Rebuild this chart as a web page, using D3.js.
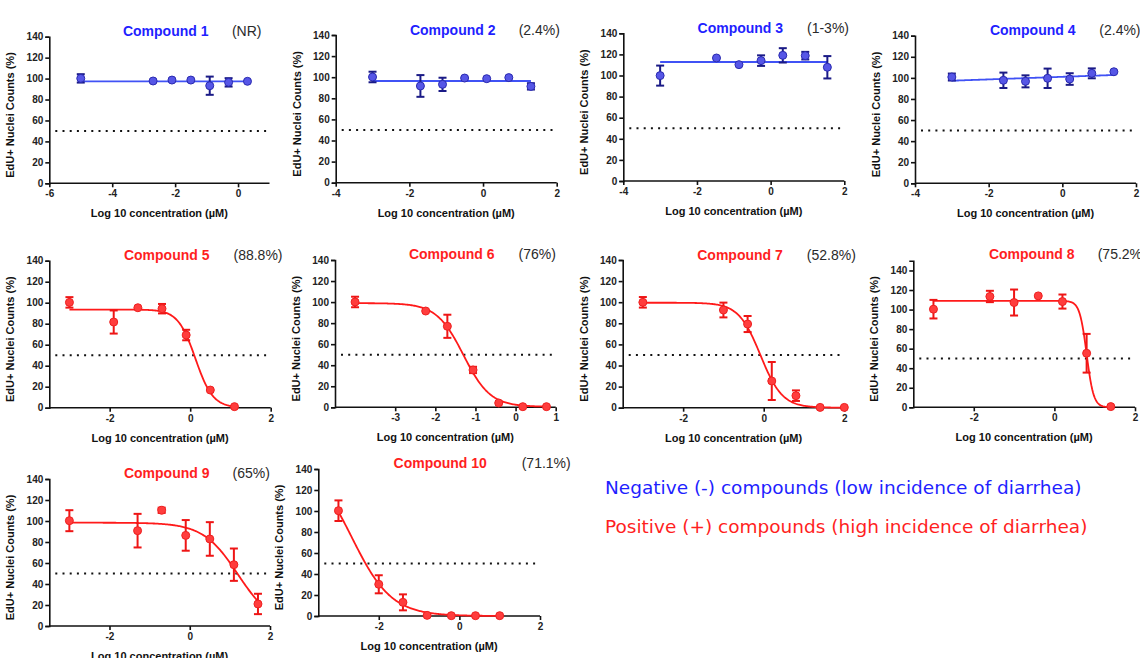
<!DOCTYPE html>
<html>
<head>
<meta charset="utf-8">
<script src="https://cdn.jsdelivr.net/npm/d3@7"></script>
<style>
  body { margin: 0; background: #fff; }
  svg { display: block; }
</style>
</head>
<body>
<svg id="chart" width="1140" height="658"></svg>
<script>
// ---- Data -------------------------------------------------------------
const compounds = ["Compound 1", "Compound 2", "Compound 3", "Compound 4", "Compound 5",
                   "Compound 6", "Compound 7", "Compound 8", "Compound 9", "Compound 10"];
const incidence = ["(NR)", "(2.4%)", "(1-3%)", "(2.4%)", "(88.8%)",
                   "(76%)", "(52.8%)", "(75.2%)", "(65%)", "(71.1%)"];
// "neg" = low incidence of diarrhea, "pos" = high incidence
const diarrheaClass = ["neg", "neg", "neg", "neg", "pos", "pos", "pos", "pos", "pos", "pos"];

// log10 concentration (µM) of each dose
const logConc = [
  [-5.0, -2.7, -2.1, -1.5, -0.9, -0.3, 0.3],
  [-3.0, -1.7, -1.1, -0.5, 0.1, 0.7, 1.3],
  [-3.0, -1.47, -0.86, -0.26, 0.33, 0.94, 1.54],
  [-3.0, -1.6, -1.0, -0.4, 0.2, 0.8, 1.4],
  [-3.0, -1.9, -1.3, -0.7, -0.1, 0.5, 1.1],
  [-4.0, -2.24, -1.7, -1.06, -0.42, 0.18, 0.77],
  [-3.0, -1.0, -0.4, 0.2, 0.8, 1.4, 2.0],
  [-3.0, -1.6, -1.0, -0.4, 0.2, 0.8, 1.4],
  [-3.0, -1.3, -0.7, -0.1, 0.5, 1.1, 1.7],
  [-3.0, -2.0, -1.4, -0.8, -0.2, 0.4, 1.0]
];
// EdU+ nuclei counts, % of control (mean)
const meanPct = [
  [100.2, 97.7, 98.6, 98.6, 93.2, 96.4, 97.4],
  [100.2, 91.7, 93.2, 99.2, 98.6, 99.6, 91.3],
  [99.9, 116.6, 110.3, 114.1, 119.1, 118.8, 107.8],
  [100.8, 97.7, 96.7, 99.6, 98.9, 104.3, 105.8],
  [100.3, 81.6, 95.2, 94.3, 69.2, 16.8, 1.0],
  [100.1, 91.5, 77.0, 35.5, 4.1, 0.6, 0.6],
  [99.9, 92.6, 79.3, 25.3, 11.4, 0.3, 0.3],
  [100.4, 113.4, 107.2, 114.0, 108.2, 55.3, 0.7],
  [100.3, 90.8, 110.2, 86.3, 82.9, 58.4, 21.0],
  [100.3, 30.2, 13.0, 0.6, 0.3, 0.3, 0.3]
];
// error (±)
const errPct = [
  [4, 0, 0, 0, 8.7, 4, 0],
  [5, 10.3, 6.3, 0, 0, 0, 3],
  [9.5, 0, 0, 5, 6.8, 3.6, 10.6],
  [3.3, 7.3, 5.7, 9.2, 5.5, 4.7, 0],
  [5, 11, 0, 4.5, 5, 0, 0],
  [5, 0, 11, 3, 0, 0, 0],
  [5, 7, 7.6, 18, 5, 0, 0],
  [9.5, 5.8, 13.3, 0, 7.2, 19.8, 0],
  [10, 16, 2.5, 14.6, 16, 15.4, 9.7],
  [9.8, 8.6, 7.6, 0, 0, 0, 0]
];

// Linear fits (negative compounds): y = intercept + slope * x
const fitIntercept = [97.3, 96.4, 112.8, 101.0, null, null, null, null, null, null];
const fitSlope     = [0, 0, 0, 1.23, null, null, null, null, null, null];
// Four-parameter logistic fits (positive compounds)
const fitTop     = [null, null, null, null, 93.5, 99.0, 99.5, 108.9, 98.4, 150];
const fitBottom  = [null, null, null, null, 0, 0.5, 0, 0, 0, 0];
const fitLogIC50 = [null, null, null, null, 0.13, -1.30, -0.08, 0.80, 1.2, -2.67];
const fitHill    = [null, null, null, null, 2.0, 1.3, 1.6, 5.0, 1.0, 0.88];

// Axis domains and ticks
const xDomains = [[-6, 1], [-4, 2], [-4, 2], [-4, 2], [-3.5, 2],
                  [-4.5, 1], [-3.5, 2], [-3.5, 2], [-3.5, 2], [-3.5, 2]];
const xTicks = [[-6, -4, -2, 0], [-4, -2, 0, 2], [-4, -2, 0, 2], [-4, -2, 0, 2], [-2, 0, 2],
                [-3, -2, -1, 0, 1], [-2, 0, 2], [-2, 0, 2], [-2, 0, 2], [-2, 0, 2]];
const yMaxes = [140, 140, 140, 140, 140, 140, 140, 150, 140, 140];
const yTicks = [0, 20, 40, 60, 80, 100, 120, 140];
const thresholdPct = 50;

const legendLines = ["Negative (-) compounds (low incidence of diarrhea)",
                     "Positive (+) compounds (high incidence of diarrhea)"];

// ---- Layout (pixel frame of each panel: left, right, top of y-range, bottom) ----
const frames = [
  { l: 49.3,  r: 269.5,  t: 36.7,  b: 183.3, title: 165.7, pct: 246.7, pctAnchor: "middle", ty: 35.5 },
  { l: 335.7, r: 556.7,  t: 35,    b: 182.7, title: 452.7, pct: 539.3, pctAnchor: "middle", ty: 35 },
  { l: 623.3, r: 844.3,  t: 33.3,  b: 181,   title: 740.3, pct: 828,   pctAnchor: "middle", ty: 33 },
  { l: 915,   r: 1136,   t: 35.7,  b: 183.3, title: 1032.7, pct: 1099.3, pctAnchor: "start", ty: 35 },
  { l: 49.3,  r: 270.7,  t: 260.7, b: 407.7, title: 166.7, pct: 258,   pctAnchor: "middle", ty: 260 },
  { l: 335,   r: 555.7,  t: 260,   b: 407.3, title: 451.7, pct: 537.3, pctAnchor: "middle", ty: 259 },
  { l: 622.7, r: 844.3,  t: 260,   b: 407.7, title: 740,   pct: 831.3, pctAnchor: "middle", ty: 260 },
  { l: 913.3, r: 1135,   t: 260.7, b: 407.3, title: 1031.7, pct: 1097.7, pctAnchor: "start", ty: 259 },
  { l: 49.3,  r: 270,    t: 479,   b: 626,   title: 166.7, pct: 251.3, pctAnchor: "middle", ty: 478 },
  { l: 318.3, r: 540,    t: 469,   b: 616,   title: 440.2, pct: 521.7, pctAnchor: "start", ty: 468 }
];

const palette = {
  neg: { title: "#1f1fff", line: "#4052f5", fill: "#5656e6", stroke: "#2a2ab0", err: "#1a1a86" },
  pos: { title: "#ff1f1f", line: "#ff1a1a", fill: "#ff3d3d", stroke: "#ee2020", err: "#ee1515" }
};

const svg = d3.select("#chart");

compounds.forEach((name, i) => {
  const f = frames[i];
  const cls = diarrheaClass[i];
  const col = palette[cls];
  const x = d3.scaleLinear().domain(xDomains[i]).range([f.l, f.r]);
  const y = d3.scaleLinear().domain([0, yMaxes[i]]).range([f.b, f.t]);
  const g = svg.append("g");

  // axes
  const xAxis = d3.axisBottom(x).tickValues(xTicks[i]).tickFormat(d => String(d))
    .tickSizeOuter(0).tickSize(4).tickPadding(3);
  const yAxis = d3.axisLeft(y).tickValues(yTicks).tickFormat(d => String(d))
    .tickSizeOuter(0).tickSize(4).tickPadding(2);

  const gx = g.append("g").attr("transform", `translate(0,${f.b})`).call(xAxis);
  const gy = g.append("g").attr("transform", `translate(${f.l},0)`).call(yAxis);
  [gx, gy].forEach(ax => {
    ax.select(".domain").attr("stroke", "#111").attr("stroke-width", 1.6);
    ax.selectAll(".tick line").attr("stroke", "#111").attr("stroke-width", 1.6);
    ax.selectAll(".tick text")
      .attr("fill", "#222")
      .style("font-family", "'Liberation Sans', Arial, sans-serif")
      .style("font-weight", "bold")
      .style("font-size", "10px");
  });
  // x-axis domain line starts at the y-axis
  gx.select(".domain").attr("d", `M${f.l},0H${f.r}`);

  // y-axis title
  g.append("text")
    .attr("transform", `translate(${f.l - 35},${(f.t + f.b) / 2 + 5}) rotate(-90)`)
    .attr("text-anchor", "middle")
    .attr("fill", "#111")
    .style("font-family", "'Liberation Sans', Arial, sans-serif")
    .style("font-weight", "bold")
    .style("font-size", "11px")
    .text("EdU+ Nuclei  Counts (%)");

  // x-axis title
  g.append("text")
    .attr("x", (f.l + f.r) / 2)
    .attr("y", f.b + 34)
    .attr("text-anchor", "middle")
    .attr("fill", "#111")
    .style("font-family", "'Liberation Sans', Arial, sans-serif")
    .style("font-weight", "bold")
    .style("font-size", "11px")
    .text("Log 10 concentration (µM)");

  // panel title and incidence
  g.append("text")
    .attr("x", f.title).attr("y", f.ty)
    .attr("text-anchor", "middle")
    .attr("fill", col.title)
    .style("font-family", "'Liberation Sans', Arial, sans-serif")
    .style("font-weight", "bold")
    .style("font-size", "14px")
    .text(name);
  g.append("text")
    .attr("x", f.pct).attr("y", f.ty)
    .attr("text-anchor", f.pctAnchor)
    .attr("fill", "#2a2a2a")
    .style("font-family", "'Liberation Sans', Arial, sans-serif")
    .style("font-size", "14px")
    .text(incidence[i]);

  // 50% reference line
  g.append("line")
    .attr("x1", x(xDomains[i][0]) + 6).attr("x2", f.r)
    .attr("y1", y(thresholdPct)).attr("y2", y(thresholdPct))
    .attr("stroke", "#111").attr("stroke-width", 2)
    .attr("stroke-dasharray", "2 5.2");

  // fitted curve
  const xs = logConc[i];
  const xMin = d3.min(xs), xMax = d3.max(xs);
  const model = cls === "neg"
    ? (v => fitIntercept[i] + fitSlope[i] * v)
    : (v => fitBottom[i] + (fitTop[i] - fitBottom[i]) /
                (1 + Math.pow(10, (v - fitLogIC50[i]) * fitHill[i])));
  const curve = d3.range(0, 201).map(k => {
    const v = xMin + (xMax - xMin) * k / 200;
    return [v, model(v)];
  });
  g.append("path")
    .datum(curve)
    .attr("fill", "none")
    .attr("stroke", col.line)
    .attr("stroke-width", 1.8)
    .attr("d", d3.line().x(d => x(d[0])).y(d => y(d[1])));

  // data points with error bars
  const pts = xs.map((v, k) => ({ x: v, y: meanPct[i][k], e: errPct[i][k] }));
  const eb = g.append("g").attr("stroke", col.err).attr("stroke-width", 2).attr("fill", "none");
  pts.filter(p => p.e > 0).forEach(p => {
    const cx = x(p.x), y1 = y(p.y + p.e), y2 = y(p.y - p.e);
    eb.append("line").attr("x1", cx).attr("x2", cx).attr("y1", y1).attr("y2", y2);
    eb.append("line").attr("x1", cx - 4).attr("x2", cx + 4).attr("y1", y1).attr("y2", y1);
    eb.append("line").attr("x1", cx - 4).attr("x2", cx + 4).attr("y1", y2).attr("y2", y2);
  });
  g.append("g").selectAll("circle")
    .data(pts)
    .join("circle")
    .attr("cx", d => x(d.x))
    .attr("cy", d => y(d.y))
    .attr("r", 4)
    .attr("fill", col.fill)
    .attr("stroke", col.stroke)
    .attr("stroke-width", 1);
});

// legend
const legend = svg.append("g")
  .style("font-family", "'DejaVu Sans', Verdana, sans-serif")
  .style("font-size", "18.5px");
legend.append("text").attr("x", 605).attr("y", 494).attr("fill", palette.neg.title).text(legendLines[0]);
legend.append("text").attr("x", 605).attr("y", 533).attr("fill", palette.pos.title).text(legendLines[1]);
</script>
</body>
</html>
